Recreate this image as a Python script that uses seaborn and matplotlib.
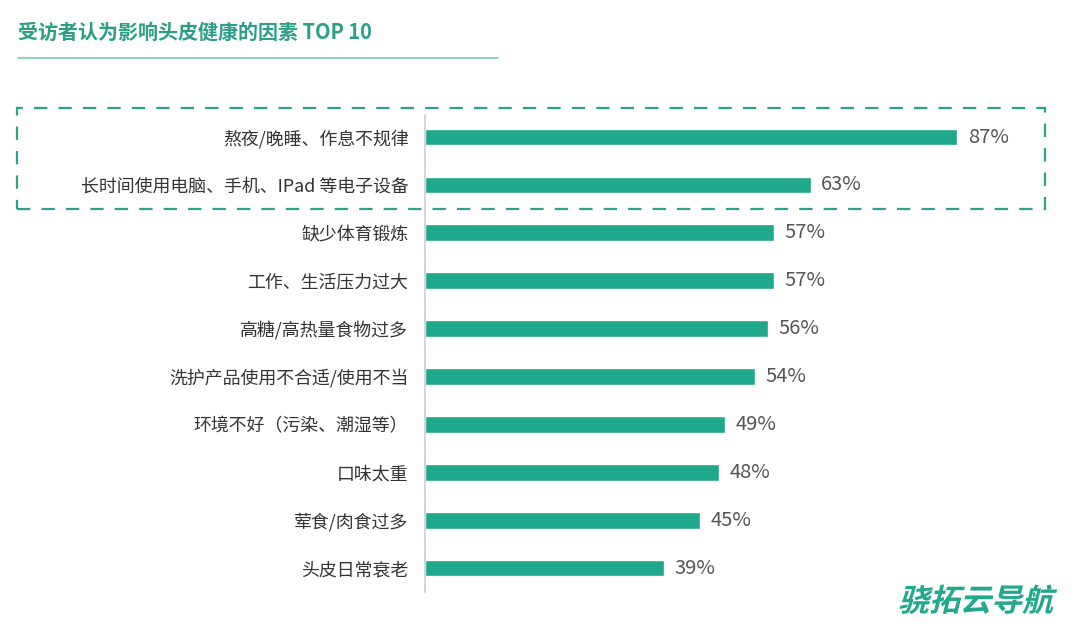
import pandas as pd
import matplotlib.pyplot as plt
import seaborn as sns
from matplotlib.patches import Rectangle, PathPatch
from matplotlib.lines import Line2D
from matplotlib.textpath import TextPath
from matplotlib.font_manager import FontProperties
from matplotlib.transforms import Affine2D, IdentityTransform

# ==========================================
# Data
# ==========================================

factors = [
    "熬夜/晚睡、作息不规律",
    "长时间使用电脑、手机、IPad 等电子设备",
    "缺少体育锻炼",
    "工作、生活压力过大",
    "高糖/高热量食物过多",
    "洗护产品使用不合适/使用不当",
    "环境不好（污染、潮湿等）",
    "口味太重",
    "荤食/肉食过多",
    "头皮日常衰老",
]
percent = [87, 63, 57, 57, 56, 54, 49, 48, 45, 39]

title = "受访者认为影响头皮健康的因素 TOP 10"
watermark = "骁拓云导航"

df = pd.DataFrame({"factor": factors, "pct": percent})

# ==========================================
# Style
# ==========================================

sns.set_style("white")
plt.rcParams["font.family"] = ["Noto Sans CJK SC", "DejaVu Sans"]

teal = "#20a88c"

fig = plt.figure(figsize=(10.8, 6.24), dpi=100)
ax = fig.add_axes([0.3935, 0.0513, 0.5695, 0.7644])

sns.barplot(data=df, x="pct", y="factor", color=teal, width=0.35,
            saturation=1, ax=ax)

ax.set_xlim(0, 100.5)
ax.set_ylim(9.5, -0.46)
ax.set_xlabel("")
ax.set_ylabel("")
ax.set_xticks([])
for side in ["top", "right", "bottom"]:
    ax.spines[side].set_visible(False)
ax.spines["left"].set_color("#cfcfcf")
ax.spines["left"].set_linewidth(1.2)
ax.tick_params(axis="y", length=0, pad=12, labelsize=12.9, labelcolor="#333333")

for i, v in enumerate(percent):
    ax.text(v + 1.7, i, f"{v}%", va="center", ha="left",
            fontsize=14.5, color="#555555")

# ==========================================
# Title, underline, highlight box, watermark
# ==========================================

fig.text(0.017, 0.948, title, fontsize=14.4, fontweight="bold",
         color="#2a9f86", va="center", ha="left")
fig.add_artist(Line2D([0.017, 0.461], [0.907, 0.907], color="#7ccbb8",
                      linewidth=1.2, transform=fig.transFigure))

box = Rectangle((0.016, 0.665), 0.952, 0.162, transform=fig.transFigure,
                fill=False, edgecolor="#2aa38a", linewidth=1.6,
                linestyle=(0, (6, 5)))
fig.add_artist(box)

# slanted watermark in the corner
wm_path = TextPath((0, 0), watermark, size=31,
                   prop=FontProperties(family="Noto Sans CJK SC", weight="bold"))
wm_tf = Affine2D().skew_deg(14, 0).translate(898, 13) + IdentityTransform()
fig.add_artist(PathPatch(wm_path, transform=wm_tf, facecolor="#22a98c",
                         edgecolor="none"))

plt.savefig("out.png", dpi=100)
plt.close()
